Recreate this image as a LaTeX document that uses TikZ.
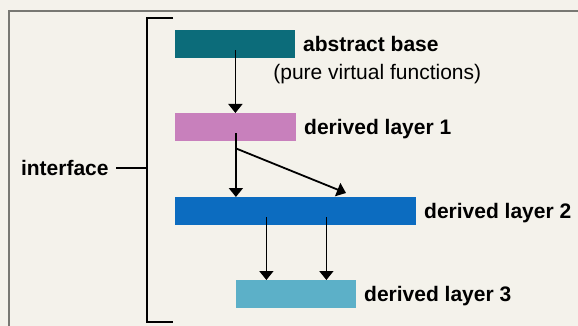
\documentclass[tikz,border=0pt]{standalone}
\usepackage{fontspec}
\setmainfont{Liberation Sans}
\definecolor{paperbg}{RGB}{244,242,235}
\definecolor{frameg}{RGB}{120,120,115}
\definecolor{baseteal}{RGB}{12,108,122}
\definecolor{layerpink}{RGB}{200,128,188}
\definecolor{layerblue}{RGB}{12,108,192}
\definecolor{layercyan}{RGB}{92,176,200}
\usetikzlibrary{
    arrows.meta,
    positioning,
    calc
}

\begin{document}
\begin{tikzpicture}[x=0.5pt, y=-0.5pt,
    layerbox/.style={draw=none, inner sep=0pt, minimum height=14pt, anchor=north west},
    layerlabel/.style={anchor=west, inner sep=0pt, xshift=3.5pt, text height=7.5pt, text depth=0pt,
        font=\fontsize{10.5}{12}\selectfont\bfseries},
    inherit/.style={-{Triangle[width=7pt, length=4.5pt]}, line width=0.9pt}]
    % Paper
    \fill[paperbg] (0,0) rectangle (578,326);
    \useasboundingbox (0,0) rectangle (578,326);
    \draw[frameg, line width=0.8pt] (578,11) -- (9,11) -- (9,326);

    % Layers
    \node (base) [layerbox, fill=baseteal, minimum width=60pt] at (175,30) {};
    \node (l1) [layerbox, fill=layerpink, minimum width=60.5pt] at (175,113) {};
    \node (l2) [layerbox, fill=layerblue, minimum width=120.5pt] at (175,197) {};
    \node (l3) [layerbox, fill=layercyan, minimum width=60pt] at (236,280) {};

    % Labels
    \node (baselbl) [layerlabel] at (base.east) {abstract base};
    \node (pvf) [anchor=west, inner sep=0pt, text height=7.5pt, text depth=0pt,
        font=\fontsize{10.5}{12}\selectfont] at (273,72) {(pure virtual functions)};
    \node (l1lbl) [layerlabel] at (l1.east) {derived layer 1};
    \node (l2lbl) [layerlabel] at (l2.east) {derived layer 2};
    \node (l3lbl) [layerlabel] at (l3.east) {derived layer 3};

    % Inheritance arrows
    \draw[inherit] ([yshift=-3pt]base.center) -- (base.center |- l1.north);
    \draw[inherit] ([yshift=-3pt]l1.center) -- (l1.center |- l2.north);
    \coordinate (split) at ($(l1.center)+(0,21)$);
    \coordinate (diagend) at ($(l2.north west)+(171,-4)$);
    \draw[inherit] (split) -- (diagend);
    \foreach \dx in {-30,30}
        \draw[inherit] ($(l3.north)+(\dx,-63)$) -- ($(l3.north)+(\dx,0)$);

    % Bracket
    \coordinate (brtop) at (173,18);
    \coordinate (brbot) at (173,322);
    \coordinate (brmid) at (147,168);
    \draw[line width=1pt] (brtop) -- ++(-26,0) |- (brbot);
    \node (iface) [anchor=east, inner sep=0pt, text height=7.5pt, text depth=0pt,
        font=\fontsize{10.5}{12}\selectfont\bfseries] at (109,168) {interface};
    \draw[line width=0.8pt] ([xshift=3.5pt]iface.east) -- (brmid);
\end{tikzpicture}
\end{document}
